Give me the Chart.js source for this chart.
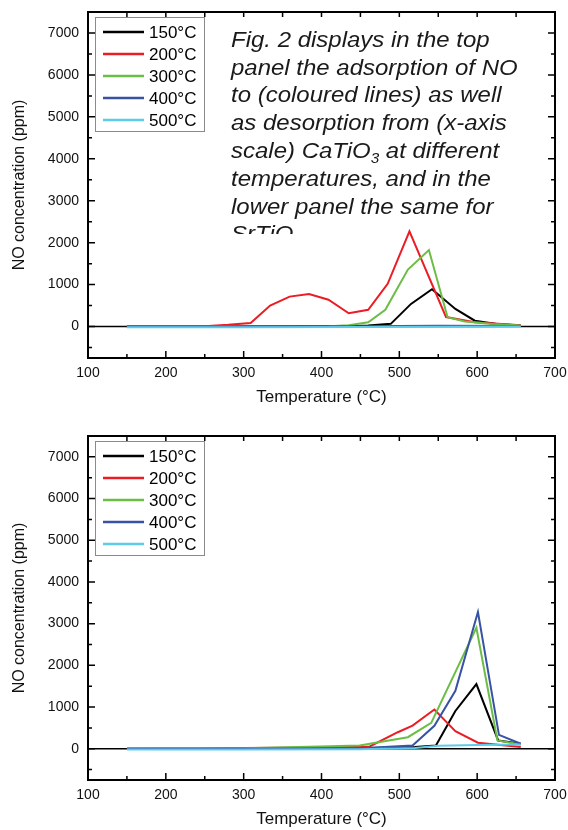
<!DOCTYPE html>
<html>
<head>
<meta charset="utf-8">
<script src="https://cdn.jsdelivr.net/npm/chart.js@4/dist/chart.umd.min.js"></script>
<style>
  body { margin: 0; background: #fff; }
  .panel { position: relative; width: 568px; height: 415px; }
</style>
</head>
<body>
<div class="panel"><canvas id="top-chart" width="568" height="415"></canvas></div>
<div class="panel"><canvas id="bottom-chart" width="568" height="415"></canvas></div>
<script>
const seriesLabels = ["150°C", "200°C", "300°C", "400°C", "500°C"];
const seriesColors = ["#000000", "#ec1c24", "#6cbd45", "#3852a4", "#5ecbe8"];

// top panel (CaTiO3)
const caTemp150 = [150, 250, 350, 435, 460, 489, 515, 542, 572, 597, 625, 656];
const caNO150 = [0, 0, 5, 10, 24, 64, 540, 890, 420, 140, 60, 25];
const caTemp200 = [150, 250, 280, 309, 334, 359, 384, 409, 435, 460, 485, 513, 560, 597, 656];
const caNO200 = [0, 10, 40, 85, 500, 714, 775, 640, 317, 400, 1020, 2270, 225, 105, 30];
const caTemp300 = [150, 300, 410, 435, 460, 482, 511, 538, 562, 584, 620, 656];
const caNO300 = [0, 0, 10, 30, 100, 400, 1360, 1825, 222, 120, 60, 25];
const caTemp400 = [150, 300, 450, 550, 656];
const caNO400 = [0, 0, 10, 20, 15];
const caTemp500 = [150, 300, 450, 550, 656];
const caNO500 = [-15, -15, -10, -5, 0];

// bottom panel (SrTiO3)
const srTemp150 = [150, 300, 450, 520, 547, 572, 599, 627, 656];
const srNO150 = [0, 0, 10, 40, 79, 905, 1550, 198, 119];
const srTemp200 = [150, 240, 300, 400, 462, 498, 517, 545, 572, 601, 656];
const srNO200 = [0, 0, 20, 30, 55, 396, 556, 940, 420, 143, 40];
const srTemp300 = [150, 300, 398, 449, 462, 511, 541, 599, 626, 656];
const srNO300 = [0, 10, 55, 79, 119, 277, 620, 2900, 198, 100];
const srTemp400 = [150, 300, 450, 517, 545, 572, 601, 628, 656];
const srNO400 = [0, 0, 10, 79, 550, 1390, 3280, 334, 119];
const srTemp500 = [150, 300, 450, 520, 550, 600, 656];
const srNO500 = [-20, -20, -10, 20, 70, 90, 100];

const xTicks = [100, 200, 300, 400, 500, 600, 700];
const yTicks = [0, 1000, 2000, 3000, 4000, 5000, 6000, 7000];

const noteLines = [
  "Fig. 2 displays in the top",
  "panel the adsorption of NO",
  "to (coloured lines) as well",
  "as desorption from (x-axis",
  "scale) CaTiO_3 at different",
  "temperatures, and in the",
  "lower panel the same for",
  "SrTiO_3"
];

const FONT = "'Liberation Sans', Arial, sans-serif";

function buildDatasets(temps, values) {
  return seriesLabels.map((label, i) => ({
    label,
    data: temps[i].map((t, j) => ({ x: t, y: values[i][j] })),
    borderColor: seriesColors[i],
    backgroundColor: seriesColors[i],
    borderWidth: 2,
    pointRadius: 0,
    tension: 0,
    fill: false,
    order: seriesLabels.length - i
  }));
}

// keep the plot box where it is, ignore label overhang
function noOverhang(s) {
  s.paddingTop = 0;
  s.paddingBottom = 0;
  s.paddingLeft = 0;
  s.paddingRight = 0;
}

// zero line, frame, inward ticks and the boxed legend
const framePlugin = {
  id: "frame",
  beforeDatasetsDraw(chart) {
    const { ctx, chartArea: a, scales: { y } } = chart;
    const y0 = y.getPixelForValue(0);
    ctx.save();
    ctx.strokeStyle = "#000";
    ctx.lineWidth = 1.5;
    ctx.beginPath();
    ctx.moveTo(a.left, y0);
    ctx.lineTo(a.right, y0);
    ctx.stroke();
    ctx.restore();
  },
  afterDatasetsDraw(chart) {
    const { ctx, chartArea: a, scales: { x, y } } = chart;
    ctx.save();
    ctx.strokeStyle = "#000";
    ctx.lineWidth = 1.5;
    ctx.beginPath();
    for (let v = 100; v <= 700; v += 50) {
      const px = x.getPixelForValue(v);
      const len = v % 100 === 0 ? 7 : 4;
      ctx.moveTo(px, a.bottom);
      ctx.lineTo(px, a.bottom - len);
      ctx.moveTo(px, a.top);
      ctx.lineTo(px, a.top + 5);
    }
    for (let v = -500; v <= 7000; v += 500) {
      const py = y.getPixelForValue(v);
      const len = v % 1000 === 0 ? 7 : 4;
      ctx.moveTo(a.left, py);
      ctx.lineTo(a.left + len, py);
      ctx.moveTo(a.right, py);
      ctx.lineTo(a.right - len, py);
    }
    ctx.stroke();

    ctx.lineWidth = 2;
    ctx.strokeRect(a.left, a.top, a.right - a.left, a.bottom - a.top);

    // legend
    const bx = a.left + 7, by = a.top + 5;
    ctx.fillStyle = "#fff";
    ctx.fillRect(bx, by, 109, 114);
    ctx.strokeStyle = "#8a8a8a";
    ctx.lineWidth = 1;
    ctx.strokeRect(bx + 0.5, by + 0.5, 109, 114);
    ctx.font = "17px " + FONT;
    ctx.textBaseline = "middle";
    chart.data.datasets.forEach((ds, i) => {
      const ry = by + 15 + i * 22;
      ctx.strokeStyle = ds.borderColor;
      ctx.lineWidth = 2.5;
      ctx.beginPath();
      ctx.moveTo(a.left + 15, ry);
      ctx.lineTo(a.left + 56, ry);
      ctx.stroke();
      ctx.fillStyle = "#000";
      ctx.fillText(ds.label, a.left + 61, ry + 1);
    });
    ctx.restore();
  }
};

// italic caption written over the top panel
const notePlugin = {
  id: "note",
  afterDraw(chart) {
    const ctx = chart.ctx;
    ctx.save();
    ctx.beginPath();
    ctx.rect(0, 0, chart.width, 234);
    ctx.clip();
    ctx.fillStyle = "#1a1a1a";
    ctx.textBaseline = "alphabetic";
    noteLines.forEach((line, i) => {
      ctx.save();
      ctx.translate(231, 46.7 + i * 27.8);
      ctx.scale(1.09, 1);
      let cx = 0;
      line.split("_").forEach((part, k) => {
        let text = part;
        if (k > 0) {
          ctx.font = "italic 14px " + FONT;
          ctx.fillText(part[0], cx, 5);
          cx += ctx.measureText(part[0]).width;
          text = part.slice(1);
        }
        ctx.font = "italic 22px " + FONT;
        ctx.fillText(text, cx, 0);
        cx += ctx.measureText(text).width;
      });
      ctx.restore();
    });
    ctx.restore();
  }
};

function makeChart(canvasId, datasets, padTop, xHeight, titlePad, extraPlugins) {
  return new Chart(document.getElementById(canvasId).getContext("2d"), {
    type: "line",
    data: { datasets },
    options: {
      responsive: false,
      animation: false,
      devicePixelRatio: 1,
      layout: { padding: { left: 0, top: padTop, right: 13, bottom: 0 } },
      plugins: { legend: { display: false }, tooltip: { enabled: false } },
      scales: {
        x: {
          type: "linear",
          min: 100,
          max: 700,
          grid: { display: false, drawTicks: false },
          border: { display: false },
          afterBuildTicks: s => { s.ticks = xTicks.map(v => ({ value: v })); },
          afterFit: s => { s.height = xHeight; noOverhang(s); },
          ticks: {
            color: "#111",
            font: { family: FONT, size: 14 },
            padding: 7,
            maxRotation: 0,
            callback: v => String(v)
          },
          title: {
            display: true,
            text: "Temperature (°C)",
            color: "#111",
            font: { family: FONT, size: 17 },
            padding: { top: 0, bottom: titlePad }
          }
        },
        y: {
          min: -750,
          max: 7500,
          grid: { display: false, drawTicks: false },
          border: { display: false },
          afterBuildTicks: s => { s.ticks = yTicks.map(v => ({ value: v })); },
          afterFit: s => { s.width = 88; noOverhang(s); },
          ticks: {
            color: "#111",
            font: { family: FONT, size: 14 },
            padding: 9,
            callback: v => String(v)
          },
          title: {
            display: true,
            text: "NO concentration (ppm)",
            color: "#111",
            font: { family: FONT, size: 16 },
            padding: { top: 10, bottom: 0 }
          }
        }
      }
    },
    plugins: [framePlugin].concat(extraPlugins)
  });
}

const topChart = makeChart(
  "top-chart",
  buildDatasets(
    [caTemp150, caTemp200, caTemp300, caTemp400, caTemp500],
    [caNO150, caNO200, caNO300, caNO400, caNO500]
  ),
  12, 57, 7, [notePlugin]
);

const bottomChart = makeChart(
  "bottom-chart",
  buildDatasets(
    [srTemp150, srTemp200, srTemp300, srTemp400, srTemp500],
    [srNO150, srNO200, srNO300, srNO400, srNO500]
  ),
  21, 50, 0, []
);
</script>
</body>
</html>
